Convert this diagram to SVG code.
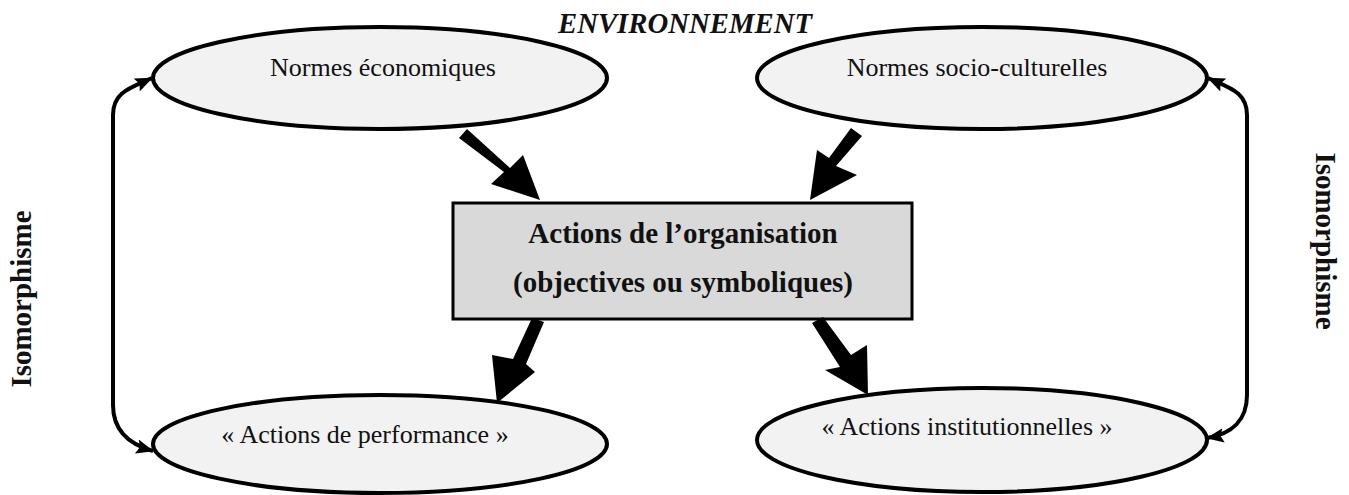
<svg xmlns="http://www.w3.org/2000/svg" width="1349" height="495" viewBox="0 0 1349 495">
<defs>
<style>
.ell{fill:#f2f2f2;stroke:#000;stroke-width:4}
.box{fill:#d9d9d9;stroke:#000;stroke-width:3}
.t{font-family:"Liberation Serif",serif;font-size:26px;fill:#111;text-anchor:middle}
.b{font-family:"Liberation Serif",serif;font-size:29px;font-weight:bold;fill:#111;text-anchor:middle}
.side{fill:none;stroke:#000;stroke-width:4}
.big{fill:#000}
</style>
<marker id="ah" markerWidth="6" markerHeight="6" refX="4.2" refY="3" orient="auto-start-reverse" markerUnits="strokeWidth">
<path d="M0,1.2 L4.4,3 L0,4.8 L0.8,3 Z" fill="#000"/>
</marker>
</defs>
<text class="b" x="685" y="33" font-style="italic" font-size="27" textLength="254" lengthAdjust="spacingAndGlyphs">ENVIRONNEMENT</text>
<g id="n-eco"><ellipse class="ell" cx="380" cy="78" rx="227" ry="51"/><text class="t" x="383" y="76">Normes économiques</text></g>
<g id="n-socio"><ellipse class="ell" cx="982" cy="78" rx="225" ry="51"/><text class="t" x="977" y="76">Normes socio-culturelles</text></g>
<g id="n-org"><rect class="box" x="453" y="203" width="459" height="116"/><text class="b" x="683" y="243">Actions de l’organisation</text><text class="b" x="683" y="292">(objectives ou symboliques)</text></g>
<g id="n-perf"><ellipse class="ell" cx="380" cy="444" rx="227" ry="49"/><text class="t" x="365" y="443">« Actions de performance »</text></g>
<g id="n-inst"><ellipse class="ell" cx="982" cy="440" rx="225" ry="52"/><text class="t" x="967" y="435">« Actions institutionnelles »</text></g>
<g id="lbl-left"><text class="b" transform="translate(31,299) rotate(-90)" font-size="27">Isomorphisme</text></g>
<g id="lbl-right"><text class="b" transform="translate(1316,241) rotate(90)" font-size="27">Isomorphisme</text></g>
<g id="connectors">
<polygon class="big" points="459,138 467,129 510,168 523,155 540,200 491,184 504,172"/>
<polygon class="big" points="851,128 862,136 836,166 857,175 810,200 817,150 829,158"/>
<polygon class="big" points="532,318 544,322 526,364 535,372 497,403 492,355 513,359"/>
<polygon class="big" points="812,323 823,317 851,355 867,345 868,395 825,370 840,367"/>
<path class="side" d="M152,78 C130,88 113,92 113,115 L113,405 C113,430 128,444 153,451" marker-start="url(#ah)" marker-end="url(#ah)"/>
<path class="side" d="M1208,78 C1230,88 1247,92 1247,115 L1247,395 C1247,420 1232,434 1207,438" marker-start="url(#ah)" marker-end="url(#ah)"/>
</g>
</svg>
